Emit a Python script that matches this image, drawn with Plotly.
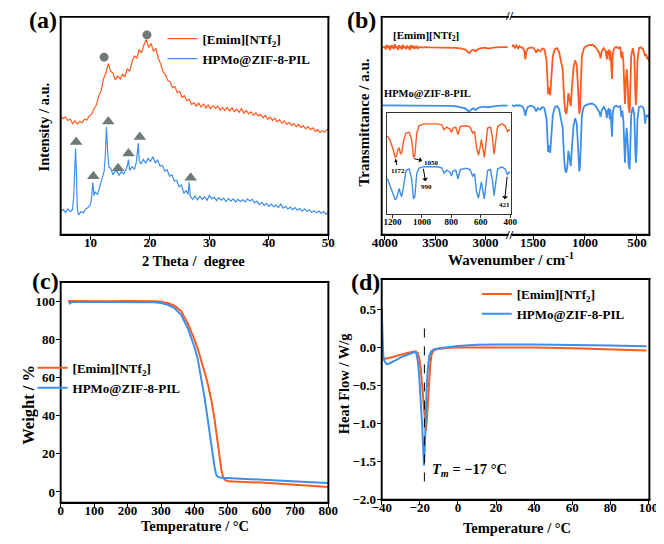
import plotly.graph_objects as go

W, H = 664, 544
SERIF = "Liberation Serif"
ORANGE = "#FF5A1F"
BLUE = "#3E8EEC"
GREY = "#6E7A78"

# ---------------- (a) XRD ----------------
xrd_emim_2t = [5.0,5.4,5.8,6.2,6.6,7.0,7.4,7.8,8.2,8.6,9.0,9.4,9.8,10.2,10.6,11.0,11.4,11.8,12.2,12.6,
               13.0,13.4,13.8,14.2,14.6,15.0,15.4,15.8,16.2,16.6,17.0,17.4,17.8,18.2,18.6,19.0,19.4,19.8,20.2,20.6,
               21.0,21.4,21.8,22.2,22.6,23.0,23.4,23.8,24.2,24.6,25.0,25.4,25.8,26.2,26.6,27.0,27.4,27.8,28.2,28.6,
               29.0,29.4,29.8,30.2,30.6,31.0,31.4,31.8,32.2,32.6,33.0,33.4,33.8,34.2,34.6,35.0,35.4,35.8,36.2,36.6,
               37.0,37.4,37.8,38.2,38.6,39.0,39.4,39.8,40.2,40.6,41.0,41.4,41.8,42.2,42.6,43.0,43.4,43.8,44.2,44.6,
               45.0,45.4,45.8,46.2,46.6,47.0,47.4,47.8,48.2,48.6,49.0,49.4,49.8,50.0]
xrd_emim_int = [54.5,53.2,54.0,52.4,53.1,51.0,52.3,50.8,52.0,51.4,53.0,52.6,54.5,55.2,57.8,59.5,63.8,66.0,71.5,74.2,
                78.5,75.0,74.2,71.0,72.8,71.5,73.6,72.4,76.2,75.0,79.5,82.0,81.0,85.0,83.5,87.2,89.5,86.0,87.8,84.2,
                85.5,81.0,78.5,74.8,73.5,70.8,70.2,67.5,68.0,65.2,65.8,63.0,63.8,61.5,62.2,59.8,60.5,59.0,60.4,58.6,
                60.0,58.2,59.5,57.8,59.2,58.0,59.0,57.2,58.4,57.0,58.5,56.8,58.2,56.5,57.6,56.2,57.8,55.8,57.0,55.5,
                56.4,54.8,56.0,54.5,55.2,53.6,54.8,53.0,54.0,52.4,53.5,51.8,52.8,51.2,52.2,50.6,51.6,50.2,51.0,49.6,
                50.6,49.2,50.0,48.6,49.6,48.2,49.0,47.4,48.2,46.8,47.8,47.0,48.4,47.8]

xrd_hpmo_2t = [5.0,5.4,5.8,6.2,6.6,7.0,7.2,7.35,7.5,7.65,7.8,8.0,8.4,8.8,9.2,9.6,10.0,10.2,10.4,10.6,
               10.8,11.2,11.6,12.0,12.3,12.5,12.7,12.9,13.1,13.4,13.8,14.2,14.5,14.8,15.2,15.6,16.0,16.2,16.4,16.6,
               17.0,17.4,17.7,17.9,18.05,18.2,18.5,18.9,19.3,19.7,20.1,20.5,20.9,21.3,21.7,22.1,22.5,22.9,23.3,23.7,
               24.1,24.5,24.9,25.3,25.7,26.1,26.4,26.6,26.8,27.2,27.6,28.0,28.4,28.8,29.2,29.6,30.0,30.4,30.8,31.2,
               31.6,32.0,32.4,32.8,33.2,33.6,34.0,34.4,34.8,35.2,35.6,36.0,36.4,36.8,37.2,37.6,38.0,38.4,38.8,39.2,
               39.6,40.0,40.4,40.8,41.2,41.6,42.0,42.4,42.8,43.2,43.6,44.0,44.4,44.8,45.2,45.6,46.0,46.4,46.8,47.2,
               47.6,48.0,48.4,48.8,49.2,49.6,50.0]
xrd_hpmo_int = [10.8,11.5,10.2,11.8,10.6,11.6,18.0,34.0,39.5,28.0,12.0,9.0,10.6,10.0,11.8,12.4,13.8,17.0,24.0,18.0,
                19.5,18.5,22.0,25.5,29.0,36.0,49.5,38.0,31.0,30.5,27.5,29.0,29.0,27.2,29.0,27.8,30.0,31.5,34.5,29.5,
                31.2,30.0,33.0,39.0,42.0,34.0,32.5,34.5,32.8,35.0,33.6,35.8,33.0,34.2,31.5,31.8,29.2,29.8,26.8,27.4,
                24.6,25.0,22.0,22.8,19.0,20.2,18.5,24.0,17.5,16.2,17.8,16.0,17.6,16.2,17.4,15.8,18.0,16.4,17.2,15.6,
                17.0,15.8,16.8,15.2,16.6,15.4,16.4,15.0,16.2,15.2,16.0,15.0,16.4,15.4,16.2,14.6,15.4,13.8,14.8,13.4,
                14.4,13.0,14.0,12.8,13.6,12.4,14.0,12.2,13.0,11.8,12.6,11.4,12.4,11.2,12.0,10.8,11.8,10.6,11.4,10.2,
                11.0,10.0,10.8,9.8,10.6,9.4,10.0]

il_peak_2t = [12.3, 19.5]          # circles
il_peak_int = [81.5, 91.7]
zif_peak_2t = [7.6, 10.5, 13.0, 14.65, 16.4, 18.3, 26.85]   # triangles
zif_peak_int = [42.5, 26.8, 52.0, 30.5, 37.3, 44.8, 26.1]

# ---------------- (b) FTIR ----------------
ir_left_wn = [4020,4000,3990,3980,3970,3960,3950,3940,3930,3920,3910,3900,3890,3880,3870,3860,3850,3840,3830,3820,
              3810,3800,3790,3780,3770,3760,3750,3740,3730,3720,3710,3700,3690,3680,3670,3650,3620,3600,3550,3500,
              3450,3400,3350,3300,3250,3200,3175,3160,3140,3120,3100,3080,3050,3000,2980,2960,2900,2850,2800,2780]
ir_left_emim = [86.0,86.2,85.0,87.2,85.8,86.6,84.6,87.0,85.6,86.8,85.2,87.4,85.8,86.4,84.8,87.0,85.6,86.6,85.0,87.2,
                85.8,86.4,85.2,86.8,85.6,86.4,84.8,87.0,85.8,86.4,85.4,86.6,85.8,86.4,85.6,86.2,85.9,86.1,86.0,86.0,
                85.9,86.0,85.8,85.8,85.5,85.0,83.8,83.4,84.6,84.9,84.2,85.0,85.6,85.8,85.4,85.6,86.0,86.1,86.1,86.1]
ir_left_hpmo = [59.4,59.4,59.4,59.4,59.4,59.4,59.4,59.4,59.4,59.4,59.4,59.3,59.3,59.3,59.3,59.3,59.3,59.3,59.3,59.3,
                59.3,59.3,59.3,59.3,59.3,59.3,59.3,59.3,59.3,59.3,59.3,59.3,59.3,59.3,59.3,59.3,59.3,59.3,59.3,59.2,
                59.2,59.2,59.1,59.0,58.6,58.0,56.8,56.5,57.6,58.0,57.2,58.0,58.6,58.8,58.5,58.7,59.0,59.2,59.2,59.2]

ir_right_wn = [1706,1690,1675,1660,1645,1630,1615,1600,1585,1574,1565,1550,1520,1490,1470,1455,1430,1410,1390,1370,
               1355,1345,1335,1325,1310,1290,1270,1250,1230,1215,1200,1190,1180,1170,1160,1150,1137,1125,1110,1095,
               1080,1070,1060,1055,1048,1040,1030,1010,990,960,930,910,890,860,850,840,820,800,790,780,
               770,762,755,740,732,720,700,680,660,650,640,630,615,605,598,590,580,570,563,555,
               540,525,515,510,503,495,480,460,440,430,421,412,400,390,382]
ir_right_emim = [86.2,87.0,85.8,86.9,85.6,86.6,85.9,86.0,84.5,80.5,84.0,85.5,86.0,85.6,83.6,85.0,84.2,85.5,85.0,80.0,
                 64.5,67.5,64.0,70.0,82.0,85.2,85.6,84.0,79.0,76.0,62.0,56.5,55.5,58.5,65.0,62.0,59.0,68.0,77.0,80.0,
                 78.0,70.0,58.0,55.5,58.0,72.0,82.0,85.6,86.5,87.0,87.2,86.6,85.6,83.2,81.0,84.0,85.6,84.2,80.5,84.0,
                 85.0,80.0,84.5,71.5,83.0,85.6,86.2,85.6,86.0,81.0,84.0,79.0,60.0,72.0,76.0,70.0,58.0,56.0,66.0,82.0,
                 85.6,82.0,64.0,59.5,66.0,80.0,85.6,86.0,85.0,83.5,82.0,83.0,80.5,81.5,79.5]
ir_right_hpmo = [59.4,59.3,59.1,59.5,59.2,59.4,59.0,58.8,57.2,54.5,57.0,58.6,59.2,58.6,56.6,58.0,57.4,58.6,58.0,53.0,
                 38.0,41.0,37.5,43.0,55.0,58.6,59.0,57.6,52.0,49.0,34.0,29.5,28.5,31.5,38.5,35.0,31.5,40.5,50.0,53.5,
                 51.0,43.0,31.0,29.0,31.0,45.0,55.0,58.8,59.5,60.0,60.2,59.6,58.6,56.0,54.0,57.0,58.6,57.0,53.5,57.0,
                 58.0,53.0,57.5,45.0,56.0,58.6,59.2,58.6,59.0,54.0,57.0,52.0,33.0,45.0,49.0,43.0,32.0,30.0,40.0,55.0,
                 58.6,55.0,37.0,33.0,39.0,53.0,58.6,59.0,58.4,56.5,51.0,55.0,54.0,55.0,53.5]

inset_wn = [1234,1218,1196,1181,1172,1163,1154,1146,1137,1123,1108,1086,1070,1057,1048,1035,1020,986,898,865,
            850,832,810,799,788,770,755,739,700,673,655,642,629,616,605,596,585,576,567,554,
            534,521,510,499,486,457,435,419,408,402]
inset_emim = [77.3,74,64.3,56.2,57.8,64.3,66,59.4,61,74,80.5,81.2,74,56.2,57.8,80.5,87.7,89.6,89.6,88.6,
              83.8,86.4,84.4,81.2,85.4,86.4,78.9,87,87.7,86.4,80.5,82.1,65.9,58.4,65.9,74,64.3,56.2,67.5,85.4,
              86.4,75.6,59.4,74,87,89.6,87.7,82.1,83.8,83.1]
inset_hpmo = [35,28.6,18.8,14,15.6,21,25.3,20.5,17.2,28.6,43.2,44.8,35,15,17.2,40,45.5,47,47,45.8,
              40.6,43.5,41.6,37.7,42.9,43.5,35,44.2,45.5,44.2,37.7,40,22,15.6,23.7,31.8,22,15,27,43.2,
              44.2,33.4,18.2,31.8,44.8,46.8,44.8,39,41.6,40.6]

# ---------------- (c) TGA ----------------
tga_emim_t = [22,50,100,150,200,250,280,300,320,340,360,380,390,400,410,420,430,440,450,460,
              465,470,475,480,485,490,500,520,550,600,650,700,750,800]
tga_emim_w = [100.3,100.2,100.2,100.2,100.3,100.3,100.2,99.9,99.2,97.8,95.0,88.5,84.5,80.0,75.0,69.5,63.0,56.5,48.5,38.0,
              31.0,24.5,18.0,12.0,8.0,6.4,5.6,5.3,5.2,4.9,4.4,3.8,3.2,2.6]
tga_hpmo_t = [25,28,32,40,100,200,250,280,300,320,340,360,380,390,400,410,420,430,440,450,
              455,460,465,470,480,500,550,600,650,700,750,800]
tga_hpmo_w = [99.9,99.0,99.6,99.8,99.8,99.8,99.8,99.6,99.2,98.3,96.6,93.0,86.0,81.5,76.0,69.5,60.0,49.5,37.5,24.5,
              18.0,13.0,9.0,7.9,7.5,7.3,7.0,6.6,6.1,5.6,5.1,4.7]

# ---------------- (d) DSC ----------------
dsc_emim_t = [-40.0,-39.5,-39.0,-38.3,-36,-34,-32,-30,-28,-26,-24,-22.2,-21.2,-20.3,-19.5,-18.8,-18.0,-17.4,-16.8,-16.3,
              -15.8,-15.2,-14.5,-13.8,-12.8,-11,-8,-4,0,20,40,60,80,99]
dsc_emim_hf = [0.0,-0.12,-0.17,-0.15,-0.14,-0.125,-0.11,-0.095,-0.08,-0.07,-0.06,-0.05,-0.07,-0.14,-0.28,-0.48,-0.75,-0.98,-1.1,-0.95,
               -0.7,-0.42,-0.22,-0.09,-0.04,-0.02,-0.01,-0.005,0.0,0.0,0.0,-0.01,-0.025,-0.04]
dsc_hpmo_t = [-40.0,-39.6,-39.2,-38.5,-37.5,-36,-34,-32,-30,-28,-26,-24,-22.7,-21.8,-21.0,-20.3,-19.5,-18.8,-18.2,-17.8,
              -17.4,-17.0,-16.4,-15.8,-15.0,-14.0,-12.8,-10,-5,0,10,20,40,60,80,99]
dsc_hpmo_hf = [0.51,0.2,-0.11,-0.18,-0.22,-0.21,-0.19,-0.16,-0.13,-0.11,-0.085,-0.07,-0.06,-0.08,-0.18,-0.38,-0.65,-1.0,-1.35,-1.55,
               -1.35,-0.95,-0.55,-0.28,-0.11,-0.05,-0.025,-0.01,0.005,0.02,0.035,0.04,0.04,0.035,0.025,0.015]
TM = -17.6
TM_LINE_Y = [0.25, -1.76]

LBL_EMIM = "[Emim][NTf<sub>2</sub>]"
LBL_HPMO = "HPMo@ZIF-8-PIL"


def px(x):
    return x / W


def py(y):
    return 1 - y / H


fig = go.Figure()

fig.add_trace(go.Scatter(x=xrd_emim_2t, y=xrd_emim_int, mode="lines", name=LBL_EMIM,
                         line=dict(color=ORANGE, width=1.2), xaxis="x", yaxis="y", legend="legend"))
fig.add_trace(go.Scatter(x=xrd_hpmo_2t, y=xrd_hpmo_int, mode="lines", name=LBL_HPMO,
                         line=dict(color=BLUE, width=1.2), xaxis="x", yaxis="y", legend="legend"))
fig.add_trace(go.Scatter(x=il_peak_2t, y=il_peak_int, mode="markers", showlegend=False,
                         marker=dict(symbol="circle", size=9, color=GREY), xaxis="x", yaxis="y"))
fig.add_trace(go.Scatter(x=zif_peak_2t, y=zif_peak_int, mode="markers", showlegend=False,
                         marker=dict(symbol="triangle-up", size=11, color=GREY), xaxis="x", yaxis="y"))

fig.add_trace(go.Scatter(x=ir_left_wn, y=ir_left_emim, mode="lines", showlegend=False,
                         line=dict(color=ORANGE, width=1.8), xaxis="x2", yaxis="y2"))
fig.add_trace(go.Scatter(x=ir_left_wn, y=ir_left_hpmo, mode="lines", showlegend=False,
                         line=dict(color=BLUE, width=1.8), xaxis="x2", yaxis="y2"))
fig.add_trace(go.Scatter(x=ir_right_wn, y=ir_right_emim, mode="lines", showlegend=False,
                         line=dict(color=ORANGE, width=1.8), xaxis="x3", yaxis="y3"))
fig.add_trace(go.Scatter(x=ir_right_wn, y=ir_right_hpmo, mode="lines", showlegend=False,
                         line=dict(color=BLUE, width=1.8), xaxis="x3", yaxis="y3"))
fig.add_trace(go.Scatter(x=inset_wn, y=inset_emim, mode="lines", showlegend=False,
                         line=dict(color=ORANGE, width=1.4), xaxis="x4", yaxis="y4"))
fig.add_trace(go.Scatter(x=inset_wn, y=inset_hpmo, mode="lines", showlegend=False,
                         line=dict(color=BLUE, width=1.4), xaxis="x4", yaxis="y4"))

fig.add_trace(go.Scatter(x=tga_emim_t, y=tga_emim_w, mode="lines", name=LBL_EMIM,
                         line=dict(color=ORANGE, width=2), xaxis="x5", yaxis="y5", legend="legend2"))
fig.add_trace(go.Scatter(x=tga_hpmo_t, y=tga_hpmo_w, mode="lines", name=LBL_HPMO,
                         line=dict(color=BLUE, width=2), xaxis="x5", yaxis="y5", legend="legend2"))

fig.add_trace(go.Scatter(x=dsc_emim_t, y=dsc_emim_hf, mode="lines", name=LBL_EMIM,
                         line=dict(color=ORANGE, width=2), xaxis="x6", yaxis="y6", legend="legend3"))
fig.add_trace(go.Scatter(x=dsc_hpmo_t, y=dsc_hpmo_hf, mode="lines", name=LBL_HPMO,
                         line=dict(color=BLUE, width=2), xaxis="x6", yaxis="y6", legend="legend3"))
fig.add_trace(go.Scatter(x=[TM, TM], y=TM_LINE_Y, mode="lines", showlegend=False,
                         line=dict(color="black", width=1, dash="dash"), xaxis="x6", yaxis="y6"))

TICKFONT = dict(family=SERIF, size=13, color="black", weight="bold")


def ax(domain, rng, anchor, dtick=None, size=13, ticklen=4, standoff=-8, color="black"):
    d = dict(domain=domain, range=rng, anchor=anchor, showline=True, linecolor=color, linewidth=1,
             mirror=True, ticks="outside", ticklen=ticklen, tickwidth=1, tickcolor=color,
             showgrid=False, zeroline=False, tickfont=dict(TICKFONT, size=size),
             ticklabelstandoff=standoff, ticklabeloverflow="allow")
    if dtick is not None:
        d["dtick"] = dtick
        d["tick0"] = 0
    return d


def ax_blank(domain, rng, anchor, mirror=True, side="left", color="black"):
    return dict(domain=domain, range=rng, anchor=anchor, showline=True, linecolor=color, linewidth=1,
                mirror=mirror, side=side, ticks="", showticklabels=False, showgrid=False, zeroline=False)


top_dom = [py(230), py(9)]
LEGFONT = dict(family=SERIF, size=13, color="black", weight="bold")
fig.update_layout(
    width=W, height=H, margin=dict(l=0, r=0, t=0, b=0),
    paper_bgcolor="white", plot_bgcolor="white",
    font=dict(family=SERIF, color="black"),
    xaxis=ax([px(44), px(320)], [5, 50], "y", dtick=10),
    yaxis=ax_blank(top_dom, [0, 100], "x"),
    xaxis2=ax([px(375), px(505)], [4030, 2780], "y2", dtick=500),
    yaxis2=ax_blank(top_dom, [0, 100], "x2", mirror=False),
    xaxis3=ax([px(509), px(651)], [1706, 380], "y3", dtick=500),
    yaxis3=ax_blank(top_dom, [0, 100], "x3", mirror=False, side="right"),
    xaxis4=ax([px(380), px(508)], [1240, 397], "y4", dtick=200, size=9, ticklen=3, standoff=-4,
              color="#333333"),
    yaxis4=ax_blank([py(209), py(107)], [0, 100], "x4", color="#333333"),
    xaxis5=ax([px(44), px(320)], [0, 800], "y5", dtick=100),
    yaxis5=ax([py(502), py(278)], [-5.6, 110.3], "x5", dtick=20, standoff=-2),
    xaxis6=ax([px(375), px(651)], [-40, 100.5], "y6", dtick=20),
    yaxis6=dict(ax([py(499), py(275)], [-2.0, 0.9], "x6", dtick=0.5, standoff=-2), tickformat=".1f"),
    legend=dict(x=px(149), y=py(16), xanchor="left", yanchor="top", bgcolor="rgba(0,0,0,0)",
                font=LEGFONT, tracegroupgap=0),
    legend2=dict(x=px(15), y=py(350), xanchor="left", yanchor="top", bgcolor="rgba(0,0,0,0)",
                 font=LEGFONT, tracegroupgap=0),
    legend3=dict(x=px(473), y=py(275), xanchor="left", yanchor="top", bgcolor="rgba(0,0,0,0)",
                 font=LEGFONT, tracegroupgap=0),
    showlegend=True,
)

# extra frame weight: thin filled bars along each plot-area edge
shapes = []


def bar(x0, x1, y0, y1):
    shapes.append(dict(type="rect", xref="paper", yref="paper", x0=px(x0), x1=px(x1), y0=py(y1), y1=py(y0),
                       fillcolor="black", line=dict(width=0), layer="above"))


def box(left, right, top, bottom, sides="lrtb"):
    if "t" in sides:
        bar(left - 1, right + 1, top - 1, top + 1)
    if "b" in sides:
        bar(left - 1, right + 1, bottom - 1, bottom + 1)
    if "l" in sides:
        bar(left - 1, left + 1, top - 1, bottom + 1)
    if "r" in sides:
        bar(right - 1, right + 1, top - 1, bottom + 1)


box(44, 320, 9, 230)            # (a)
box(375, 505, 9, 230, "ltb")    # (b) left segment
box(509, 651, 9, 230, "rtb")    # (b) right segment
box(44, 320, 278, 502)          # (c)
box(375, 651, 275, 499)         # (d)
fig.update_layout(shapes=shapes)


def ann(text, x, y, size, angle=0, xanchor="center", **kw):
    return dict(text=text, x=px(x), y=py(y), xref="paper", yref="paper", showarrow=False,
                xanchor=xanchor, yanchor="middle", textangle=angle,
                font=dict(family=SERIF, size=size, color="black", weight="bold"), **kw)


annotations = [
    ann("(a)", 26, 12, 24), ann("(b)", 354, 12, 24), ann("(c)", 28, 277, 24), ann("(d)", 358, 278, 24),
    ann("2 Theta /&nbsp; degree", 181, 257, 14.5),
    ann("Intensity / a.u.", 27, 121, 14.5, angle=-90),
    ann("Wavenumber / cm<sup>-1</sup>", 508, 255, 15),
    ann("Transmittance / a.u.", 357, 116, 15, angle=-90),
    ann("Temperature / °C", 182, 526, 14.5),
    ann("Weight / %", 10, 403, 16.5, angle=-90),
    ann("Temperature / °C", 515, 528, 14.5),
    ann("Heat Flow / W/g", 337, 381, 14.5, angle=-90),
    ann(LBL_EMIM, 385, 28, 11, xanchor="left"),
    ann(LBL_HPMO, 375, 87, 10.5, xanchor="left"),
    ann("<i>T<sub>m</sub></i> = −17 °C", 425, 469, 14.5, xanchor="left"),
    ann("//", 507, 230, 13), ann("//", 507, 8, 13),
]


def inset_ann(text, x, y, dx, dy, side="end"):
    return dict(text=text, x=x, y=y, xref="x4", yref="y4", showarrow=True, ax=dx, ay=dy,
                arrowhead=2, arrowsize=0.7, arrowwidth=1, arrowcolor="black", arrowside=side,
                standoff=0, startstandoff=0,
                font=dict(family=SERIF, size=7, color="black", weight="bold"))


annotations += [
    inset_ann("1172", 1181, 55, 3, 12),
    inset_ann("1050", 1053, 55, 17, 4, side="start"),
    inset_ann("990", 990, 45, 3, 18, side="start"),
    inset_ann("421", 421, 37, -3, 28, side="start"),
]
fig.update_layout(annotations=annotations)

fig.write_html("out.html")
